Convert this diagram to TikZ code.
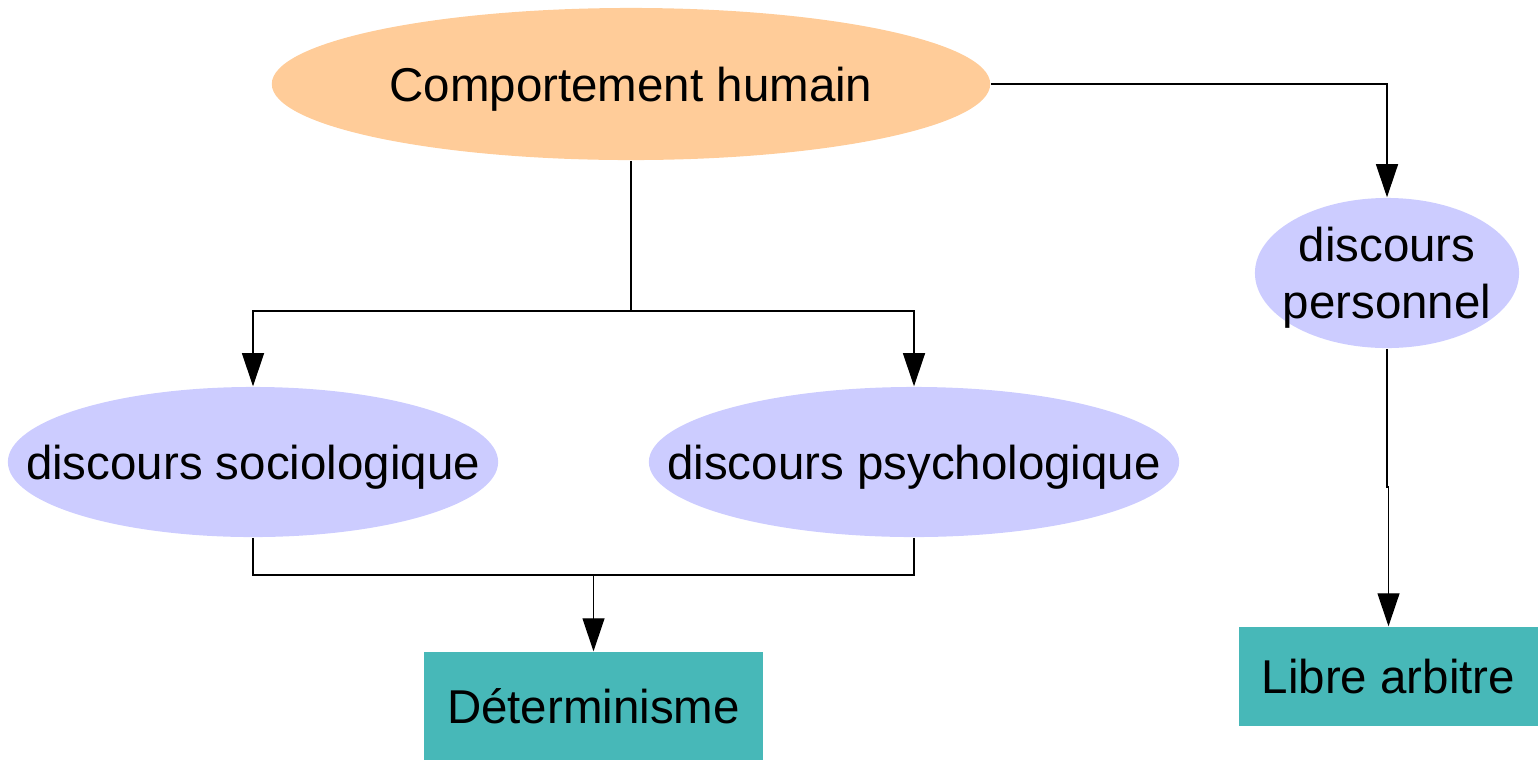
\documentclass[tikz,border=0pt]{standalone}
\usepackage{fontspec}
\setmainfont{Liberation Sans}
\usetikzlibrary{shapes.geometric,arrows.meta}
\definecolor{humain}{HTML}{FFCC99}
\definecolor{discours}{HTML}{CCCCFF}
\definecolor{issue}{HTML}{47B8B8}
\tikzset{
  bulle/.style={ellipse,inner xsep=-0.8cm,inner ysep=0pt,text depth=0pt,font=\fontsize{13.5}{16.2}\selectfont,align=center},
  boite/.style={rectangle,fill=issue,inner sep=0pt,font=\fontsize{13.5}{16.2}\selectfont},
  fleche/.style={-{Triangle[width=0.22cm,length=0.33cm]}},
  lien/.style={line width=0.35pt}
}
\begin{document}
\begin{tikzpicture}[x=0.01cm,y=-0.01cm]
\useasboundingbox (0,0) rectangle (1539,760);
  \node[bulle,fill=humain,minimum width=7.18cm,minimum height=1.52cm] at (631,84) (hum) {Comportement humain};
  \node[bulle,fill=discours,minimum width=2.64cm,minimum height=1.5cm] at (1387,273) (pers) {discours\\personnel};
  \node[bulle,fill=discours,minimum width=4.9cm,minimum height=1.5cm] at (253,462) (soc) {discours sociologique};
  \node[bulle,fill=discours,minimum width=5.3cm,minimum height=1.5cm] at (914,462) (psy) {discours psychologique};
  \node[boite,minimum width=3.39cm,minimum height=1.08cm] at (593.5,706) (det) {Déterminisme};
  \node[boite,minimum width=2.99cm,minimum height=0.99cm] at (1388.5,676.5) (libre) {Libre arbitre};
  \coordinate (split) at (631,311);
  \coordinate (join) at (593.5,575);
  \coordinate (jog) at (1387,487);
  \draw[lien] (hum.south) -- (split);
  \draw[lien,fleche] (split) -| (soc.north);
  \draw[lien,fleche] (split) -| (psy.north);
  \draw[lien,fleche] (hum.east) -| (pers.north);
  \draw[lien] (soc.south) |- (join);
  \draw[lien] (psy.south) |- (join);
  \draw[lien,fleche] (join) -- (det.north);
  \draw[lien,fleche] (pers.south) -- (jog) -| (libre.north);
\end{tikzpicture}
\end{document}
